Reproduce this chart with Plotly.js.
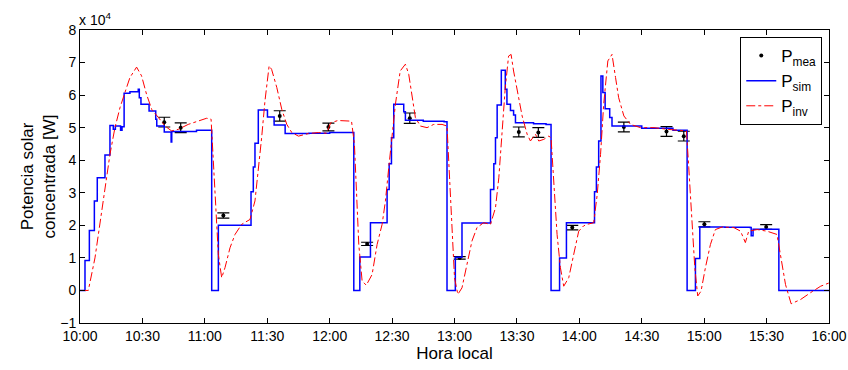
<!DOCTYPE html>
<html>
<head>
<meta charset="utf-8">
<script src="https://cdn.plot.ly/plotly-3.0.1.min.js"></script>
<style>html,body{margin:0;padding:0;background:#fff;}#chart{width:848px;height:370px;}</style>
</head>
<body>
<div id="chart"></div>
<script>
// time in minutes after 10:00, power in W
const tickMinutes = [0,30,60,90,120,150,180,210,240,270,300,330,360];
const tickLabels = ["10:00","10:30","11:00","11:30","12:00","12:30","13:00","13:30","14:00","14:30","15:00","15:30","16:00"];
const yTickVals = [-10000,0,10000,20000,30000,40000,50000,60000,70000,80000];
const yTickLabels = ["\u22121","0","1","2","3","4","5","6","7","8"];

const simTime = [0,2.4,4.5,6.9,8.3,12.0,14.4,16.0,17.0,19.5,20.2,21.2,24,28.0,28.5,29.3,33.2,36.4,36.9,40.5,43.8,44.1,50,56,63.3,66.5,82.2,83.3,84.1,85.7,90.1,93.3,98.6,110,120,131.6,134.5,139.6,147.6,148.6,149.7,150.8,155.6,156.4,165,175,176.4,180.4,183.6,197.3,198.9,199.7,200.5,202.5,204.4,205.2,206.9,208.4,209.3,218,224,226.4,230.5,233.8,247.3,248.2,249.3,250.4,251.3,252.4,254.6,255.7,270,285,291.8,295.8,297.9,310,322,322.6,323.5,335.9,360];
const simPower = [0,9200,18400,27500,34600,41600,50700,49500,50500,49200,50300,60600,61000,61800,59200,57200,55100,52600,50500,48700,45600,48800,48800,49200,0,20000,30300,37900,45200,55400,53300,50800,48200,48300,48500,0,10300,20800,31000,38900,46900,57200,54900,52300,52000,51800,0,10200,20700,31000,38900,46900,57000,67600,61800,57200,55300,53900,51500,51200,51000,0,10000,20800,30300,37900,45900,65900,60800,55800,53100,50500,49800,49200,0,9800,19500,19400,19300,16800,18800,0,0];

const invTime = [0,4,7.2,9.6,12,14.4,16.8,19.2,21.6,24,27.2,29.6,32,34.5,37.7,40.9,44,47.3,52,56.9,60.9,63,64.1,65.2,66.5,68.1,69.7,72.1,74.5,77.7,81.7,84.1,85.7,87.3,88.9,90.9,92.1,94.6,97,99.4,101.8,105,109.8,114.6,118.5,120.5,124,130.5,131.9,132.8,134,135.6,137.6,140.4,142.8,145.2,146.8,148.4,150,151.6,153.9,156.4,158,159.6,161.2,163.6,166.8,170,174,176.4,177.7,178.9,180,181.6,183.6,186,188.4,190.8,194,197.3,199.7,201.3,202.9,204.4,206,207.2,208.4,210.9,212.5,214.9,216.5,218.9,220.5,222.9,225.3,226.4,227.7,229.3,230.9,232.5,234.9,237.3,239.7,242,243.7,246.9,248.6,250.2,251.7,253.7,255.7,257.4,258.9,261.4,264.6,269.4,275.9,282.2,288.6,291.5,292.6,294.2,295.5,296.9,298.5,300.6,303,305.4,308.7,314.3,317.5,319.8,321.4,325.5,330.2,335,336.7,339.1,341.8,346.3,351.1,356,360];
const invPower = [0,0,10000,20300,31600,41800,50000,56100,60800,65400,68600,65900,60200,55600,53100,50500,49000,49500,51000,52000,52900,52600,39800,24400,11000,3900,7000,13100,17200,20300,21800,27500,36700,46900,58200,69000,67900,62300,55600,51000,48500,47400,48200,48500,48300,51500,52200,52000,44900,29500,14100,2900,1600,4900,14100,20300,27500,37700,46900,57200,67400,69500,66400,59200,53100,50500,50000,51000,51000,50500,34600,17200,3900,-1200,800,8000,15200,19300,20800,20300,25400,34600,48000,62300,72000,72500,67400,59200,53600,48000,45900,48000,45900,46400,47400,46900,34600,17200,7000,1300,3900,11000,18200,19800,20300,20800,29500,41800,57200,70500,72500,65400,59200,53600,51000,50000,50000,49500,49200,49000,37700,19300,7000,-1700,-200,7000,14100,18700,19500,19300,18200,14700,18200,18700,18200,17200,11000,1800,-4100,-2800,-700,1300,2300];

const meaTime = [40.5,48.4,68.9,96,119.4,138,158.5,182.5,210.9,220.3,236.6,261.4,281.9,290.2,300.1,329.8];
const meaPower = [51700,50000,23000,53600,50200,14300,52900,10000,48700,48500,19300,50200,48800,47400,20300,19500];
const meaErr = [1500,1500,800,1600,1200,500,1600,400,1500,1500,700,1500,1500,1500,800,700];

const font = "Liberation Sans, Arial, Helvetica, sans-serif";

const traces = [
  {
    x: meaTime, y: meaPower, type: "scatter", mode: "markers", name: "P<sub>mea</sub>",
    marker: {color: "#000", size: 4},
    error_y: {type: "data", array: meaErr, visible: true, color: "#000", thickness: 1.2, width: 6}
  },
  {
    x: simTime, y: simPower, type: "scatter", mode: "lines", name: "P<sub>sim</sub>",
    line: {color: "#0000ff", width: 1.5, shape: "hv"}
  },
  {
    x: invTime, y: invPower, type: "scatter", mode: "lines", name: "P<sub>inv</sub>",
    line: {color: "#ff0000", width: 1, dash: "dashdot"}
  }
];

const layout = {
  width: 848, height: 370,
  margin: {l: 80, r: 19, t: 30, b: 47},
  paper_bgcolor: "#fff", plot_bgcolor: "#fff",
  font: {family: font, size: 14, color: "#000"},
  showlegend: true,
  legend: {
    x: 0.991, y: 0.976, xanchor: "right", yanchor: "top",
    bordercolor: "#000", borderwidth: 1, bgcolor: "#fff",
    font: {family: font, size: 17, color: "#000"},
    tracegroupgap: 0
  },
  xaxis: {
    range: [0, 360], tickmode: "array", tickvals: tickMinutes, ticktext: tickLabels,
    ticks: "inside", ticklen: 5, tickcolor: "#000", mirror: "ticks",
    showline: true, linecolor: "#000", linewidth: 1, showgrid: false, zeroline: false,
    tickfont: {family: font, size: 14, color: "#000"},
    title: {text: "Hora local", font: {family: font, size: 17, color: "#000"}, standoff: 2}
  },
  yaxis: {
    range: [-10000, 80000], tickmode: "array", tickvals: yTickVals, ticktext: yTickLabels,
    ticks: "inside", ticklen: 5, tickcolor: "#000", mirror: "ticks",
    showline: true, linecolor: "#000", linewidth: 1, showgrid: false, zeroline: false,
    tickfont: {family: font, size: 14, color: "#000"},
    title: {text: "Potencia solar<br>concentrada [W]", font: {family: font, size: 17, color: "#000"}, standoff: 0}
  },
  annotations: [
    {xref: "paper", yref: "paper", x: 0, y: 1, xanchor: "left", yanchor: "bottom",
     text: "x 10<sup>4</sup>", showarrow: false, font: {family: font, size: 14, color: "#000"}, xshift: -3, yshift: 0}
  ]
};

Plotly.newPlot("chart", traces, layout, {displayModeBar: false, staticPlot: true});
</script>
</body>
</html>
